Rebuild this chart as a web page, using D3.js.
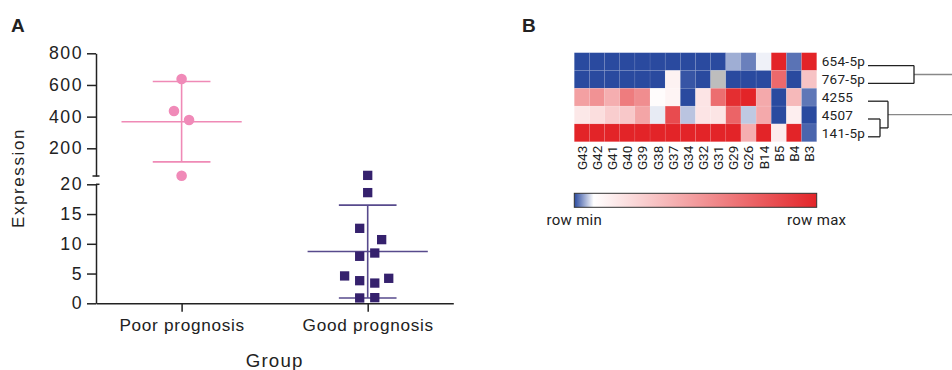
<!DOCTYPE html>
<html>
<head>
<meta charset="utf-8">
<script src="https://cdn.jsdelivr.net/npm/d3@7"></script>
<style>
  body { margin: 0; background: #fff; }
  svg { display: block; }
</style>
</head>
<body>
<svg id="chart" width="952" height="370"></svg>
<script>
// ---------- panel A data ----------
const groups = ['Poor prognosis', 'Good prognosis'];
const poorValues = [638, 436, 379, 27];
const poorJitter = [0, -0.041, 0.04, 0];          // offset in units of group step
const goodValues = [21.5, 18.6, 12.6, 10.7, 8.45, 7.9, 4.6, 4.2, 3.8, 3.4, 0.95, 0.9];
const goodJitter = [0, 0, -0.043, 0.075, 0.038, -0.043, -0.124, 0.113, -0.043, 0.038, 0.038, -0.043];
const groupMean = [368, 8.7];
const groupSD = [254, 7.8];
const upperTicks = [200, 400, 600, 800];
const lowerTicks = [0, 5, 10, 15, 20];

// ---------- panel B data ----------
const samples = ['G43', 'G42', 'G41', 'G40', 'G39', 'G38', 'G37', 'G34', 'G32', 'G31', 'G29', 'G26', 'B14', 'B5', 'B4', 'B3'];
const mirnas = ['654-5p', '767-5p', '4255', '4507', '141-5p'];
// row-normalised expression (0 = row min, 1 = row max, null = missing)
const row654 = [0, 0, 0, 0, 0, 0, 0, 0, 0, 0, 0.044, 0.024, 0.074, 1, 0.018, 1];
const row767 = [0, 0, 0, 0, 0, 0, 0.135, 0.005, 0, null, 0, 0, 0, 0.71, 0, 0.33];
const row4255 = [0.48, 0.54, 0.42, 0.63, 0.56, 0.093, 0.126, 0, 0.193, 0.69, 0.96, 1, 0.44, 0, 0.374, 0.02];
const row4507 = [0.177, 0.22, 0.29, 0.31, 0.46, 0.071, 0.835, 0.054, 0.193, 0.19, 0.73, 0.056, 0.44, 0, 0.15, 0];
const row141 = [1, 1, 1, 1, 1, 1, 1, 1, 1, 1, 1, 0.42, 1, 0.163, 1, 0.012];
const rows = [row654, row767, row4255, row4507, row141];
// row dendrogram (merge heights)
const dendro = {
  height: 3, children: [
    { height: 0.92, children: [{ name: '654-5p', height: 0 }, { name: '767-5p', height: 0 }] },
    { height: 0.4, children: [
      { name: '4255', height: 0 },
      { height: 0.24, children: [{ name: '4507', height: 0 }, { name: '141-5p', height: 0 }] }
    ] }
  ]
};

const svg = d3.select('#chart');
const fontA = "'Liberation Sans', Arial, sans-serif";
const fontB = "Roboto, 'Liberation Sans', sans-serif";
const ink = '#222';

// ================= panel A =================
const axisX = 96, plotRight = 453.3;
const yTop = 53.3, breakTop = 176, breakBottom = 184.3, yBottom = 303.3;

const x = d3.scalePoint().domain(groups).range([axisX, plotRight]).padding(0.46);
const yUp = d3.scaleLinear().domain([25, 800]).range([breakTop, yTop]);
const yLow = d3.scaleLinear().domain([0, 20]).range([yBottom, breakBottom]);
const yOf = v => v > 24 ? yUp(v) : yLow(v);

svg.append('text').attr('x', 11).attr('y', 32)
  .attr('font-family', fontA).attr('font-weight', 'bold').attr('font-size', 19)
  .attr('fill', ink).text('A');

function styleAxis(g, size, spacing) {
  g.attr('font-family', fontA).attr('font-size', size);
  g.selectAll('path, line').attr('stroke', ink).attr('stroke-width', 1.5);
  g.selectAll('text').attr('fill', ink).attr('letter-spacing', spacing);
}

svg.append('g').attr('transform', `translate(${axisX},0)`)
  .call(d3.axisLeft(yUp).tickValues(upperTicks).tickSize(9).tickSizeOuter(0).tickPadding(4))
  .call(g => styleAxis(g, 17.7, 1.5));

svg.append('g').attr('transform', `translate(${axisX},0)`)
  .call(d3.axisLeft(yLow).tickValues(lowerTicks).tickSize(9).tickSizeOuter(0).tickPadding(4))
  .call(g => styleAxis(g, 17.7, 1.5));

// axis break caps
svg.append('line').attr('x1', axisX - 3.5).attr('x2', axisX + 3.5)
  .attr('y1', yUp(25)).attr('y2', yUp(25)).attr('stroke', ink).attr('stroke-width', 1.5);
svg.append('line').attr('x1', axisX).attr('x2', axisX + 3.5)
  .attr('y1', yLow(20)).attr('y2', yLow(20)).attr('stroke', ink).attr('stroke-width', 1.5);

svg.append('g').attr('transform', `translate(0,${yBottom})`)
  .call(d3.axisBottom(x).tickSize(8.5).tickSizeOuter(0).tickPadding(7))
  .call(g => styleAxis(g, 17.2, 0.7));

svg.append('text')
  .attr('transform', `translate(24,178) rotate(-90)`)
  .attr('text-anchor', 'middle').attr('font-family', fontA).attr('font-size', 17)
  .attr('letter-spacing', 1.6).attr('fill', ink).text('Expression');

svg.append('text').attr('x', (axisX + plotRight) / 2).attr('y', 367)
  .attr('text-anchor', 'middle').attr('font-family', fontA).attr('font-size', 18.7)
  .attr('letter-spacing', 1.2).attr('fill', ink).text('Group');

// mean +/- SD
const lineColors = ['#ef8ab6', '#574a8c'];
const step = x.step();
groups.forEach((grp, i) => {
  const cx = x(grp);
  const g = svg.append('g').attr('stroke', lineColors[i]).attr('stroke-width', 1.6);
  const lo = yOf(groupMean[i] - groupSD[i]), hi = yOf(groupMean[i] + groupSD[i]);
  g.append('line').attr('x1', cx).attr('x2', cx).attr('y1', lo).attr('y2', hi);
  g.append('line').attr('x1', cx - 0.155 * step).attr('x2', cx + 0.155 * step).attr('y1', lo).attr('y2', lo);
  g.append('line').attr('x1', cx - 0.155 * step).attr('x2', cx + 0.155 * step).attr('y1', hi).attr('y2', hi);
  g.append('line').attr('x1', cx - 0.323 * step).attr('x2', cx + 0.323 * step)
    .attr('y1', yOf(groupMean[i])).attr('y2', yOf(groupMean[i]));
});

svg.append('g').selectAll('circle')
  .data(poorValues)
  .enter()
  .append('circle')
  .attr('cx', (d, i) => x(groups[0]) + poorJitter[i] * step)
  .attr('cy', d => yOf(d))
  .attr('r', 5.3)
  .attr('fill', '#f08ab8');

const sq = 9.3;
svg.append('g').selectAll('rect')
  .data(goodValues)
  .enter()
  .append('rect')
  .attr('x', (d, i) => x(groups[1]) + goodJitter[i] * step - sq / 2)
  .attr('y', d => yOf(d) - sq / 2)
  .attr('width', sq)
  .attr('height', sq)
  .attr('fill', '#35216d');

// ================= panel B =================
svg.append('text').attr('x', 522).attr('y', 32)
  .attr('font-family', fontA).attr('font-weight', 'bold').attr('font-size', 19)
  .attr('fill', ink).text('B');

const hx = d3.scaleBand().domain(samples).range([574.3, 816.7]);
const hy = d3.scaleBand().domain(mirnas).range([52.7, 141.7]);
const blue = '#2a4a9f', red = '#e32428';
const heat = d3.scaleLinear().domain([0, 0.08, 1]).range([blue, '#ffffff', red]);

const cells = [];
rows.forEach((r, i) => r.forEach((v, j) => cells.push({ row: mirnas[i], col: samples[j], v })));

svg.append('g').selectAll('rect')
  .data(cells)
  .enter()
  .append('rect')
  .attr('x', d => hx(d.col))
  .attr('y', d => hy(d.row))
  .attr('width', hx.bandwidth())
  .attr('height', hy.bandwidth())
  .attr('fill', d => d.v === null ? '#bdbdbd' : heat(d.v))
  .attr('stroke', 'rgba(255,255,255,0.12)')
  .attr('stroke-width', 0.6);

svg.append('g').selectAll('text')
  .data(mirnas)
  .enter()
  .append('text')
  .attr('x', hx.range()[1] + 5)
  .attr('y', d => hy(d) + hy.bandwidth() / 2)
  .attr('dy', '0.35em')
  .attr('font-family', fontB).attr('font-size', 13.5).attr('letter-spacing', 0.3)
  .attr('fill', ink)
  .text(d => d);

svg.append('g').selectAll('text')
  .data(samples)
  .enter()
  .append('text')
  .attr('transform', d => `translate(${hx(d) + hx.bandwidth() / 2},${hy.range()[1] + 4}) rotate(-90)`)
  .attr('dy', '0.36em')
  .attr('text-anchor', 'end')
  .attr('font-family', fontB).attr('font-size', 13.5)
  .attr('fill', ink)
  .text(d => d);

// dendrogram
const root = d3.hierarchy(dendro);
const dx = d3.scaleLinear().domain([0, 1]).range([868, 918]);
root.eachAfter(n => {
  if (!n.children) n.y = hy(n.data.name) + hy.bandwidth() / 2 + 4;
  else n.y = (n.children[0].y + n.children[n.children.length - 1].y) / 2;
});
const dg = svg.append('g').attr('fill', 'none').attr('stroke-width', 1.3);
root.descendants().forEach(n => {
  if (n.parent) {
    dg.append('line')
      .attr('x1', dx(n.data.height)).attr('x2', dx(n.parent.data.height))
      .attr('y1', n.y).attr('y2', n.y)
      .attr('stroke', n.parent.parent ? ink : '#888');
  }
  if (n.children && n.parent) {
    dg.append('line')
      .attr('x1', dx(n.data.height)).attr('x2', dx(n.data.height))
      .attr('y1', n.children[0].y).attr('y2', n.children[n.children.length - 1].y)
      .attr('stroke', ink);
  }
});

// colour legend
const defs = svg.append('defs');
const grad = defs.append('linearGradient').attr('id', 'rowscale');
heat.domain().forEach((d, i) => {
  grad.append('stop').attr('offset', d).attr('stop-color', heat.range()[i]);
});
const lx = hx.range()[0], lw = hx.range()[1] - hx.range()[0];
svg.append('rect').attr('x', lx).attr('y', 193.3).attr('width', lw).attr('height', 14)
  .attr('fill', 'url(#rowscale)').attr('stroke', '#333').attr('stroke-width', 1);
svg.append('text').attr('x', lx).attr('y', 225).attr('text-anchor', 'middle')
  .attr('font-family', fontB).attr('font-size', 15).attr('letter-spacing', 0.3)
  .attr('fill', ink).text('row min');
svg.append('text').attr('x', lx + lw).attr('y', 225).attr('text-anchor', 'middle')
  .attr('font-family', fontB).attr('font-size', 15).attr('letter-spacing', 0.3)
  .attr('fill', ink).text('row max');
</script>
</body>
</html>
